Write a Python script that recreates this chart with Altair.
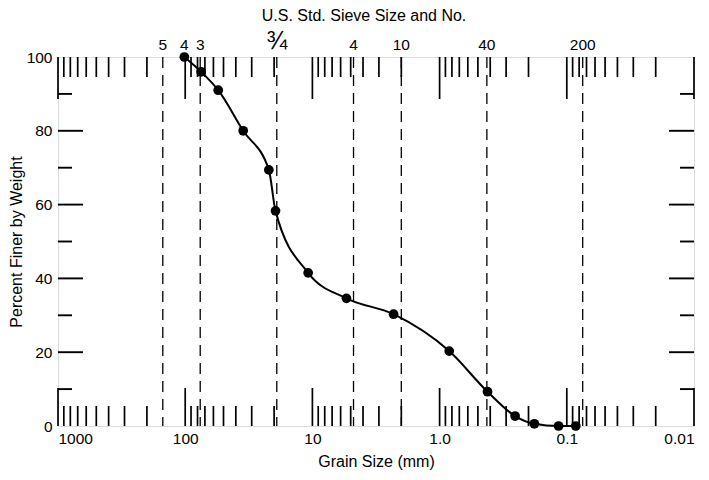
import altair as alt
import pandas as pd

# ---- data ----
grain_mm = [101.6, 75.0, 55.0, 35.0, 22.0, 19.5, 10.8, 5.4, 2.3, 0.84, 0.42, 0.255, 0.18, 0.116, 0.085]
pct_finer = [100, 96, 91, 80, 69.4, 58.3, 41.5, 34.6, 30.3, 20.3, 9.3, 2.7, 0.6, 0, 0]

sieve_labels = ["5", "4", "3", "4", "10", "40", "200"]
sieve_mm = [150.0, 101.6, 76.2, 4.75, 2.0, 0.425, 0.075]
fraction_label = ["¾"]
fraction_mm = [19.05]
dashed_mm = [150.0, 76.2, 19.05, 4.75, 2.0, 0.425, 0.075]

decades = [1000, 100, 10, 1, 0.1, 0.01]
minor_mult = [2, 3, 4, 5, 6, 7, 8, 9]
y_label_vals = [0, 20, 40, 60, 80, 100]
y_major = [20, 40, 60, 80]
y_minor = [10, 30, 50, 70, 90]

# ---- geometry / style ----
W, H = 636, 369
PX_PER_DEC = W / 5.0
PX_PER_PCT = H / 100.0
FONT = "Liberation Sans"
LABEL_FS = 15.5
TITLE_FS = 16

def pct(px):
    return px / PX_PER_PCT

def dec(px):
    return 10 ** (px / PX_PER_DEC)

# tick tables
xt_rows = []
for d in decades:
    xt_rows.append({"v": d, "a": 0, "b": pct(38)})
    xt_rows.append({"v": d, "a": 100, "b": 100 - pct(42)})
for k in [-2, -1, 0, 1, 2]:
    for m in minor_mult:
        v = m * 10 ** k
        xt_rows.append({"v": v, "a": 0, "b": pct(20)})
        xt_rows.append({"v": v, "a": 100, "b": 100 - pct(20)})
xticks = pd.DataFrame(xt_rows)

yt_rows = []
for v in y_major:
    yt_rows.append({"v": v, "a": 1000, "b": 1000 / dec(25)})
    yt_rows.append({"v": v, "a": 0.01, "b": 0.01 * dec(25)})
for v in y_minor:
    yt_rows.append({"v": v, "a": 1000, "b": 1000 / dec(14)})
    yt_rows.append({"v": v, "a": 0.01, "b": 0.01 * dec(14)})
yticks = pd.DataFrame(yt_rows)

curve = pd.DataFrame({"mm": grain_mm, "pct": pct_finer, "i": list(range(len(grain_mm)))})
sieves = pd.DataFrame({"mm": sieve_mm, "label": sieve_labels})
frac = pd.DataFrame({"mm": fraction_mm, "label": fraction_label})
dashes = pd.DataFrame({"mm": dashed_mm})

xscale = alt.Scale(type="log", domain=[0.01, 1000], reverse=True, nice=False)
yscale = alt.Scale(domain=[0, 100], nice=False, zero=False)

xaxis = alt.Axis(
    title="Grain Size (mm)",
    values=decades,
    labelExpr="datum.value == 1 ? '1.0' : (datum.value >= 10 ? format(datum.value, 'd') : format(datum.value, '.2~f'))",
    ticks=False, tickSize=0, domain=False, grid=False,
    labelFont=FONT, labelFontSize=LABEL_FS, labelColor="black", labelPadding=5,
    labelOverlap=False,
    titleFont=FONT, titleFontSize=TITLE_FS, titleFontWeight="normal", titleColor="black",
    titlePadding=7,
)
yaxis = alt.Axis(
    title="Percent Finer by Weight",
    values=y_label_vals,
    ticks=False, tickSize=0, domain=False, grid=False,
    labelFont=FONT, labelFontSize=LABEL_FS, labelColor="black", labelPadding=6,
    titleFont=FONT, titleFontSize=TITLE_FS, titleFontWeight="normal", titleColor="black",
    titlePadding=2,
)

def X(f):
    return alt.X(f, type="quantitative", scale=xscale, axis=xaxis)

def Y(f):
    return alt.Y(f, type="quantitative", scale=yscale, axis=yaxis)

xtick_layer = alt.Chart(xticks).mark_rule(color="black", strokeWidth=1.7).encode(
    x=X("v"), y=Y("a"), y2=alt.Y2("b")
)
ytick_layer = alt.Chart(yticks).mark_rule(color="black", strokeWidth=1.9).encode(
    y=Y("v"), x=X("a"), x2=alt.X2("b")
)
dash_layer = alt.Chart(dashes).mark_rule(
    color="black", strokeWidth=1.3, strokeDash=[11, 7]
).encode(x=X("mm"))

line_layer = alt.Chart(curve).mark_line(
    color="black", strokeWidth=2, interpolate="monotone"
).encode(x=X("mm"), y=Y("pct"), order=alt.Order("i:Q"))

pt_layer = alt.Chart(curve).mark_circle(color="black", opacity=1, size=95).encode(
    x=X("mm"), y=Y("pct")
)

label_layer = alt.Chart(sieves).mark_text(
    font=FONT, fontSize=LABEL_FS, color="black", baseline="alphabetic", align="center"
).encode(x=X("mm"), y=alt.value(-7), text="label:N")

frac_layer = alt.Chart(frac).mark_text(
    font=FONT, fontSize=25, color="black", baseline="alphabetic", align="center"
).encode(x=X("mm"), y=alt.value(-8), text="label:N")

chart = alt.layer(
    dash_layer, xtick_layer, ytick_layer, line_layer, pt_layer, label_layer, frac_layer
).properties(
    width=W, height=H,
    title=alt.TitleParams(
        "U.S. Std. Sieve Size and No.", font=FONT, fontSize=TITLE_FS,
        fontWeight="normal", color="black", offset=5, anchor="middle", dx=-12,
    ),
    padding={"left": 0, "top": 0, "right": 5, "bottom": 0},
).configure_view(
    stroke="black", strokeWidth=2
).configure(background="white")

chart.save("out.html", embed_options={"renderer": "svg", "actions": False})
